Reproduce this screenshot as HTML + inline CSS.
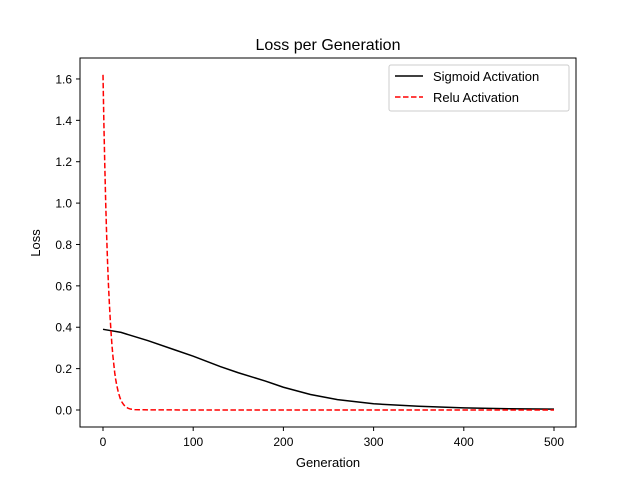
<!DOCTYPE html>
<html><head><meta charset="utf-8"><style>body{margin:0;background:#fff}svg{font-family:"Liberation Sans","DejaVu Sans",sans-serif}</style></head>
<body>
<svg id="chart" width="640" height="480">
<rect width="640" height="480" fill="#fff"/>
<text x="328" y="50" font-size="16" text-anchor="middle">Loss per Generation</text>
<g id="marks"></g>
<rect x="80" y="58" width="496" height="369" fill="none" stroke="#000" stroke-width="1"/>
<g id="ticks" font-size="12"></g>
<text x="328" y="467" font-size="13" text-anchor="middle">Generation</text>
<text x="40" y="243" font-size="13" text-anchor="middle" transform="rotate(-90 40 243)">Loss</text>
<g>
<rect x="389" y="65" width="180" height="46" fill="#fff" stroke="#ccc" rx="2"/>
<line x1="395" y1="76" x2="423" y2="76" stroke="#000" stroke-width="1.5"/>
<text x="433" y="81" font-size="13">Sigmoid Activation</text>
<line x1="395" y1="97" x2="423" y2="97" stroke="red" stroke-width="1.5" stroke-dasharray="5.5,2.5"/>
<text x="433" y="102" font-size="13">Relu Activation</text>
</g>
</svg>
<script>
const sigX=[0,20,50,80,100,130,150,180,200,230,260,300,350,400,450,500];
const sigY=[0.39,0.375,0.335,0.29,0.26,0.21,0.18,0.14,0.11,0.075,0.05,0.03,0.018,0.01,0.006,0.004];
const reluX=[0,1,2,3,4,5,6,7,8,9,10,11,12,13,14,15,17,19,21,23,25,28,31,35,40,100,500];
const reluY=[1.62,1.38,1.18,1.0,0.85,0.72,0.61,0.52,0.44,0.37,0.31,0.26,0.22,0.18,0.15,0.125,0.085,0.057,0.038,0.025,0.016,0.008,0.004,0.002,0.001,0,0];
const xTicks=[0,100,200,300,400,500];
const yTicks=[0,0.2,0.4,0.6,0.8,1.0,1.2,1.4,1.6];
const NS="http://www.w3.org/2000/svg";
function xs(v){return 103+v*0.902;}
function ys(v){return 410-v*206.9;}
const marks=document.getElementById('marks');
function line(X,Y,color,dash,name){
 const p=document.createElementNS(NS,'path');
 p.setAttribute('d',X.map((x,i)=>(i?'L':'M')+xs(x)+','+ys(Y[i])).join(''));
 p.setAttribute('fill','none');p.setAttribute('stroke',color);p.setAttribute('stroke-width','1.5');
 if(dash)p.setAttribute('stroke-dasharray',dash);
 
 
 marks.appendChild(p);
}
line(sigX,sigY,'#000',null,'sigmoid-line');
line(reluX,reluY,'red','5.5,2.5','relu-line');
const t=document.getElementById('ticks');
xTicks.forEach(v=>{
 const l=document.createElementNS(NS,'line');
 l.setAttribute('x1',xs(v));l.setAttribute('x2',xs(v));l.setAttribute('y1',427);l.setAttribute('y2',431);l.setAttribute('stroke','#000');
 
 
 t.appendChild(l);
 const s=document.createElementNS(NS,'text');
 s.setAttribute('x',xs(v));s.setAttribute('y',446);s.setAttribute('text-anchor','middle');s.textContent=v;
 
 
 t.appendChild(s);
});
yTicks.forEach(v=>{
 const l=document.createElementNS(NS,'line');
 l.setAttribute('x1',76);l.setAttribute('x2',80);l.setAttribute('y1',ys(v));l.setAttribute('y2',ys(v));l.setAttribute('stroke','#000');
 
 
 t.appendChild(l);
 const s=document.createElementNS(NS,'text');
 s.setAttribute('x',72);s.setAttribute('y',ys(v)+4.5);s.setAttribute('text-anchor','end');s.textContent=v.toFixed(1);
 
 
 t.appendChild(s);
});
</script>
</body></html>
